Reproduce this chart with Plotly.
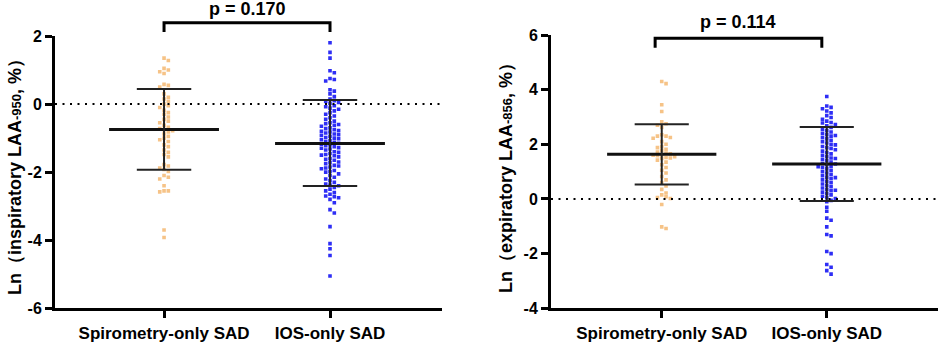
import numpy as np
import plotly.graph_objects as go

# ---------------- data ----------------
categories = ["Spirometry-only SAD", "IOS-only SAD"]

insp_spiro = [1.35, 1.28, 1.05, 1.0, 0.95, 0.9, 0.58, 0.55, 0.5, 0.3, 0.2, 0.15, 0.08, 0.0,
              -0.05, -0.1, -0.18, -0.25, -0.3, -0.38, -0.45, -0.5, -0.55, -0.62, -0.68, -0.72,
              -0.75, -0.78, -0.82, -0.88, -0.95, -1.0, -1.05, -1.1, -1.2, -1.25, -1.35, -1.42,
              -1.48, -1.55, -1.78, -1.82, -1.88, -1.92, -1.98, -2.1, -2.15, -2.2, -2.4, -2.55,
              -2.55, -2.58, -3.7, -3.92]
insp_ios = [1.8, 1.52, 1.35, 0.98, 0.92, 0.75, 0.72, 0.68, 0.42, 0.38, 0.3, 0.22, 0.15, 0.1,
            0.08, 0.05, 0.02, -0.05, -0.08, -0.12, -0.15, -0.2, -0.25, -0.3, -0.35, -0.4, -0.45,
            -0.5, -0.55, -0.58, -0.6, -0.62, -0.65, -0.7, -0.72, -0.75, -0.78, -0.8, -0.82, -0.85,
            -0.88, -0.9, -0.92, -0.95, -0.98, -1.0, -1.02, -1.05, -1.08, -1.1, -1.12, -1.15, -1.18,
            -1.2, -1.22, -1.25, -1.28, -1.3, -1.32, -1.35, -1.4, -1.42, -1.45, -1.48, -1.5, -1.52,
            -1.55, -1.6, -1.62, -1.65, -1.7, -1.72, -1.75, -1.8, -1.82, -1.85, -1.88, -1.9, -1.95,
            -1.98, -2.0, -2.05, -2.1, -2.15, -2.2, -2.25, -2.3, -2.35, -2.38, -2.4, -2.45, -2.5,
            -2.55, -2.6, -2.65, -2.7, -2.72, -2.75, -2.8, -2.9, -3.1, -3.2, -3.6, -4.1, -4.25,
            -4.45, -5.05]
exp_spiro = [4.3, 4.22, 3.45, 3.2, 2.82, 2.75, 2.7, 2.62, 2.35, 2.3, 2.3, 2.25, 2.22, 2.1, 2.0,
             1.92, 1.88, 1.82, 1.78, 1.72, 1.68, 1.65, 1.62, 1.6, 1.58, 1.55, 1.52, 1.5, 1.48,
             1.42, 1.35, 1.25, 1.15, 1.05, 0.95, 0.82, 0.7, 0.6, 0.48, 0.35, 0.22, 0.15, 0.08,
             0.05, 0.02, -0.2, -1.02, -1.08]
exp_ios = [3.75, 3.4, 3.35, 3.3, 3.22, 3.15, 3.05, 2.98, 2.92, 2.85, 2.8, 2.78, 2.72, 2.68, 2.62,
           2.55, 2.5, 2.45, 2.4, 2.35, 2.32, 2.3, 2.25, 2.2, 2.15, 2.1, 2.05, 2.0, 1.98, 1.92,
           1.88, 1.85, 1.8, 1.75, 1.7, 1.65, 1.6, 1.55, 1.5, 1.48, 1.45, 1.4, 1.35, 1.3, 1.28,
           1.25, 1.2, 1.18, 1.15, 1.1, 1.05, 1.0, 0.95, 0.9, 0.85, 0.8, 0.78, 0.75, 0.7, 0.65,
           0.6, 0.55, 0.5, 0.45, 0.4, 0.35, 0.32, 0.3, 0.25, 0.2, 0.15, 0.1, 0.05, 0.02, -0.05,
           -0.1, -0.3, -0.45, -0.7, -0.78, -1.02, -1.3, -1.35, -1.92, -2.0, -2.4, -2.5, -2.62,
           -2.75]

insp_mean = [-0.745, -1.157]
insp_sd_upper = [0.44, 0.118]
insp_sd_lower = [-1.93, -2.41]
exp_mean = [1.635, 1.28]
exp_sd_upper = [2.73, 2.63]
exp_sd_lower = [0.527, -0.073]

p_labels = ["p = 0.170", "p = 0.114"]
y_titles = ["Ln（inspiratory LAA<span style='font-size:13px'>-950</span>, %）",
            "Ln（expiratory LAA<span style='font-size:13px'>-856</span>, %）"]
insp_ticks = [-6, -4, -2, 0, 2]
exp_ticks = [-4, -2, 0, 2, 4, 6]

# ---------------- style ----------------
FONT = "Arial, Liberation Sans, sans-serif"
ORANGE = "#F6C387"
BLUE = "#2E2EF5"
W, H = 941, 342


def beeswarm(vals, center, px_x, px_y, d=4.3):
    vals = np.asarray(vals, float)
    order = np.argsort(-vals, kind="stable")
    placed = []
    xs = np.zeros_like(vals)
    cand = [0]
    for k in range(1, 40):
        cand += [k, -k]
    for i in order:
        yp = vals[i] * px_y
        for c in cand:
            xp = c * d
            if all(not (abs(qy - yp) < d * 0.85 and abs(qx - xp) < d * 0.95) for qx, qy in placed):
                placed.append((xp, yp))
                xs[i] = center + xp / px_x
                break
    return xs


fig = go.Figure()

panels = [
    dict(xa="x", ya="y", groups=[insp_spiro, insp_ios], mean=insp_mean, up=insp_sd_upper,
         lo=insp_sd_lower, rng=[-6, 2], ticks=insp_ticks,
         xdom=[55 / W, 441.7 / W], xr=[-0.657, 1.673], ydom=[1 - 308.3 / H, 1 - 36 / H]),
    dict(xa="x2", ya="y2", groups=[exp_spiro, exp_ios], mean=exp_mean, up=exp_sd_upper,
         lo=exp_sd_lower, rng=[-4, 6], ticks=exp_ticks,
         xdom=[551 / W, 938 / W], xr=[-0.671, 1.674], ydom=[1 - 308.3 / H, 1 - 35 / H]),
]

for p in panels:
    px_x = (p["xdom"][1] - p["xdom"][0]) * W / (p["xr"][1] - p["xr"][0])
    px_y = (p["ydom"][1] - p["ydom"][0]) * H / (p["rng"][1] - p["rng"][0])
    for gi, (vals, col) in enumerate(zip(p["groups"], [ORANGE, BLUE])):
        xs = beeswarm(vals, gi, px_x, px_y)
        fig.add_trace(go.Scatter(x=xs, y=vals, mode="markers", xaxis=p["xa"], yaxis=p["ya"],
                                 marker=dict(color=col, size=3.6, symbol="square", line=dict(width=0)),
                                 hoverinfo="skip"))
    for gi in range(2):
        m, u, l = p["mean"][gi], p["up"][gi], p["lo"][gi]
        fig.add_trace(go.Scatter(x=[gi - 0.331, gi + 0.331], y=[m, m], mode="lines",
                                 xaxis=p["xa"], yaxis=p["ya"],
                                 line=dict(color="#111111", width=3), hoverinfo="skip"))
        fig.add_trace(go.Scatter(x=[gi - 0.164, gi + 0.164, None, gi, gi, None, gi - 0.164, gi + 0.164],
                                 y=[u, u, None, u, l, None, l, l], mode="lines",
                                 xaxis=p["xa"], yaxis=p["ya"],
                                 line=dict(color="#222222", width=2), hoverinfo="skip"))

axis_style = dict(showgrid=False, zeroline=False, showline=True, linewidth=3, linecolor="black",
                  ticks="outside", ticklen=7, tickwidth=3, tickcolor="black")
layout = dict(width=W, height=H, margin=dict(l=0, r=0, t=0, b=0), paper_bgcolor="white",
              plot_bgcolor="white", showlegend=False, template="none")
for i, p in enumerate(panels):
    sx = "" if i == 0 else "2"
    layout["xaxis" + sx] = dict(axis_style, domain=p["xdom"], range=p["xr"], anchor="y" + sx,
                                tickvals=[0, 1], ticktext=categories,
                                tickfont=dict(family=FONT, size=17, color="black", weight="bold"))
    layout["yaxis" + sx] = dict(axis_style, domain=p["ydom"], range=p["rng"], anchor="x" + sx,
                                tickvals=p["ticks"], ticktext=[str(t) for t in p["ticks"]],
                                tickfont=dict(family=FONT, size=16, color="black", weight="bold"))
fig.update_layout(**layout)

for i in range(2):
    sx = "" if i == 0 else "2"
    fig.add_shape(type="line", xref="x" + sx + " domain", yref="y" + sx, x0=0, x1=1, y0=0, y1=0,
                  line=dict(color="black", width=2, dash="2px,5.5px"))

brackets = [dict(sx="", xl=0.0, xr=1.0, yt=1 - 22.7 / H, yb=1 - 32 / H, ty=1 - 9 / H),
            dict(sx="2", xl=-0.04, xr=0.97, yt=1 - 38.3 / H, yb=1 - 47.7 / H, ty=1 - 22 / H)]
for b, lab in zip(brackets, p_labels):
    fig.add_shape(type="path", xref="x" + b["sx"], yref="paper",
                  path=f"M {b['xl']},{b['yb']} L {b['xl']},{b['yt']} L {b['xr']},{b['yt']} L {b['xr']},{b['yb']}",
                  line=dict(color="black", width=3))
    fig.add_annotation(x=(b["xl"] + b["xr"]) / 2, y=b["ty"], xref="x" + b["sx"], yref="paper",
                       text=lab, showarrow=False, xanchor="center", yanchor="middle",
                       font=dict(family=FONT, size=18, color="black", weight="bold"))

for xc, t in zip([15 / W, 506 / W], y_titles):
    fig.add_annotation(x=xc, y=1 - 173 / H, xref="paper", yref="paper", text=t, textangle=-90,
                       showarrow=False, xanchor="center", yanchor="middle",
                       font=dict(family=FONT, size=18, color="black", weight="bold"))

fig.write_html("out.html", config={"displayModeBar": False, "staticPlot": True},
               post_script="document.body.style.margin='0';document.body.style.overflow='hidden';")
